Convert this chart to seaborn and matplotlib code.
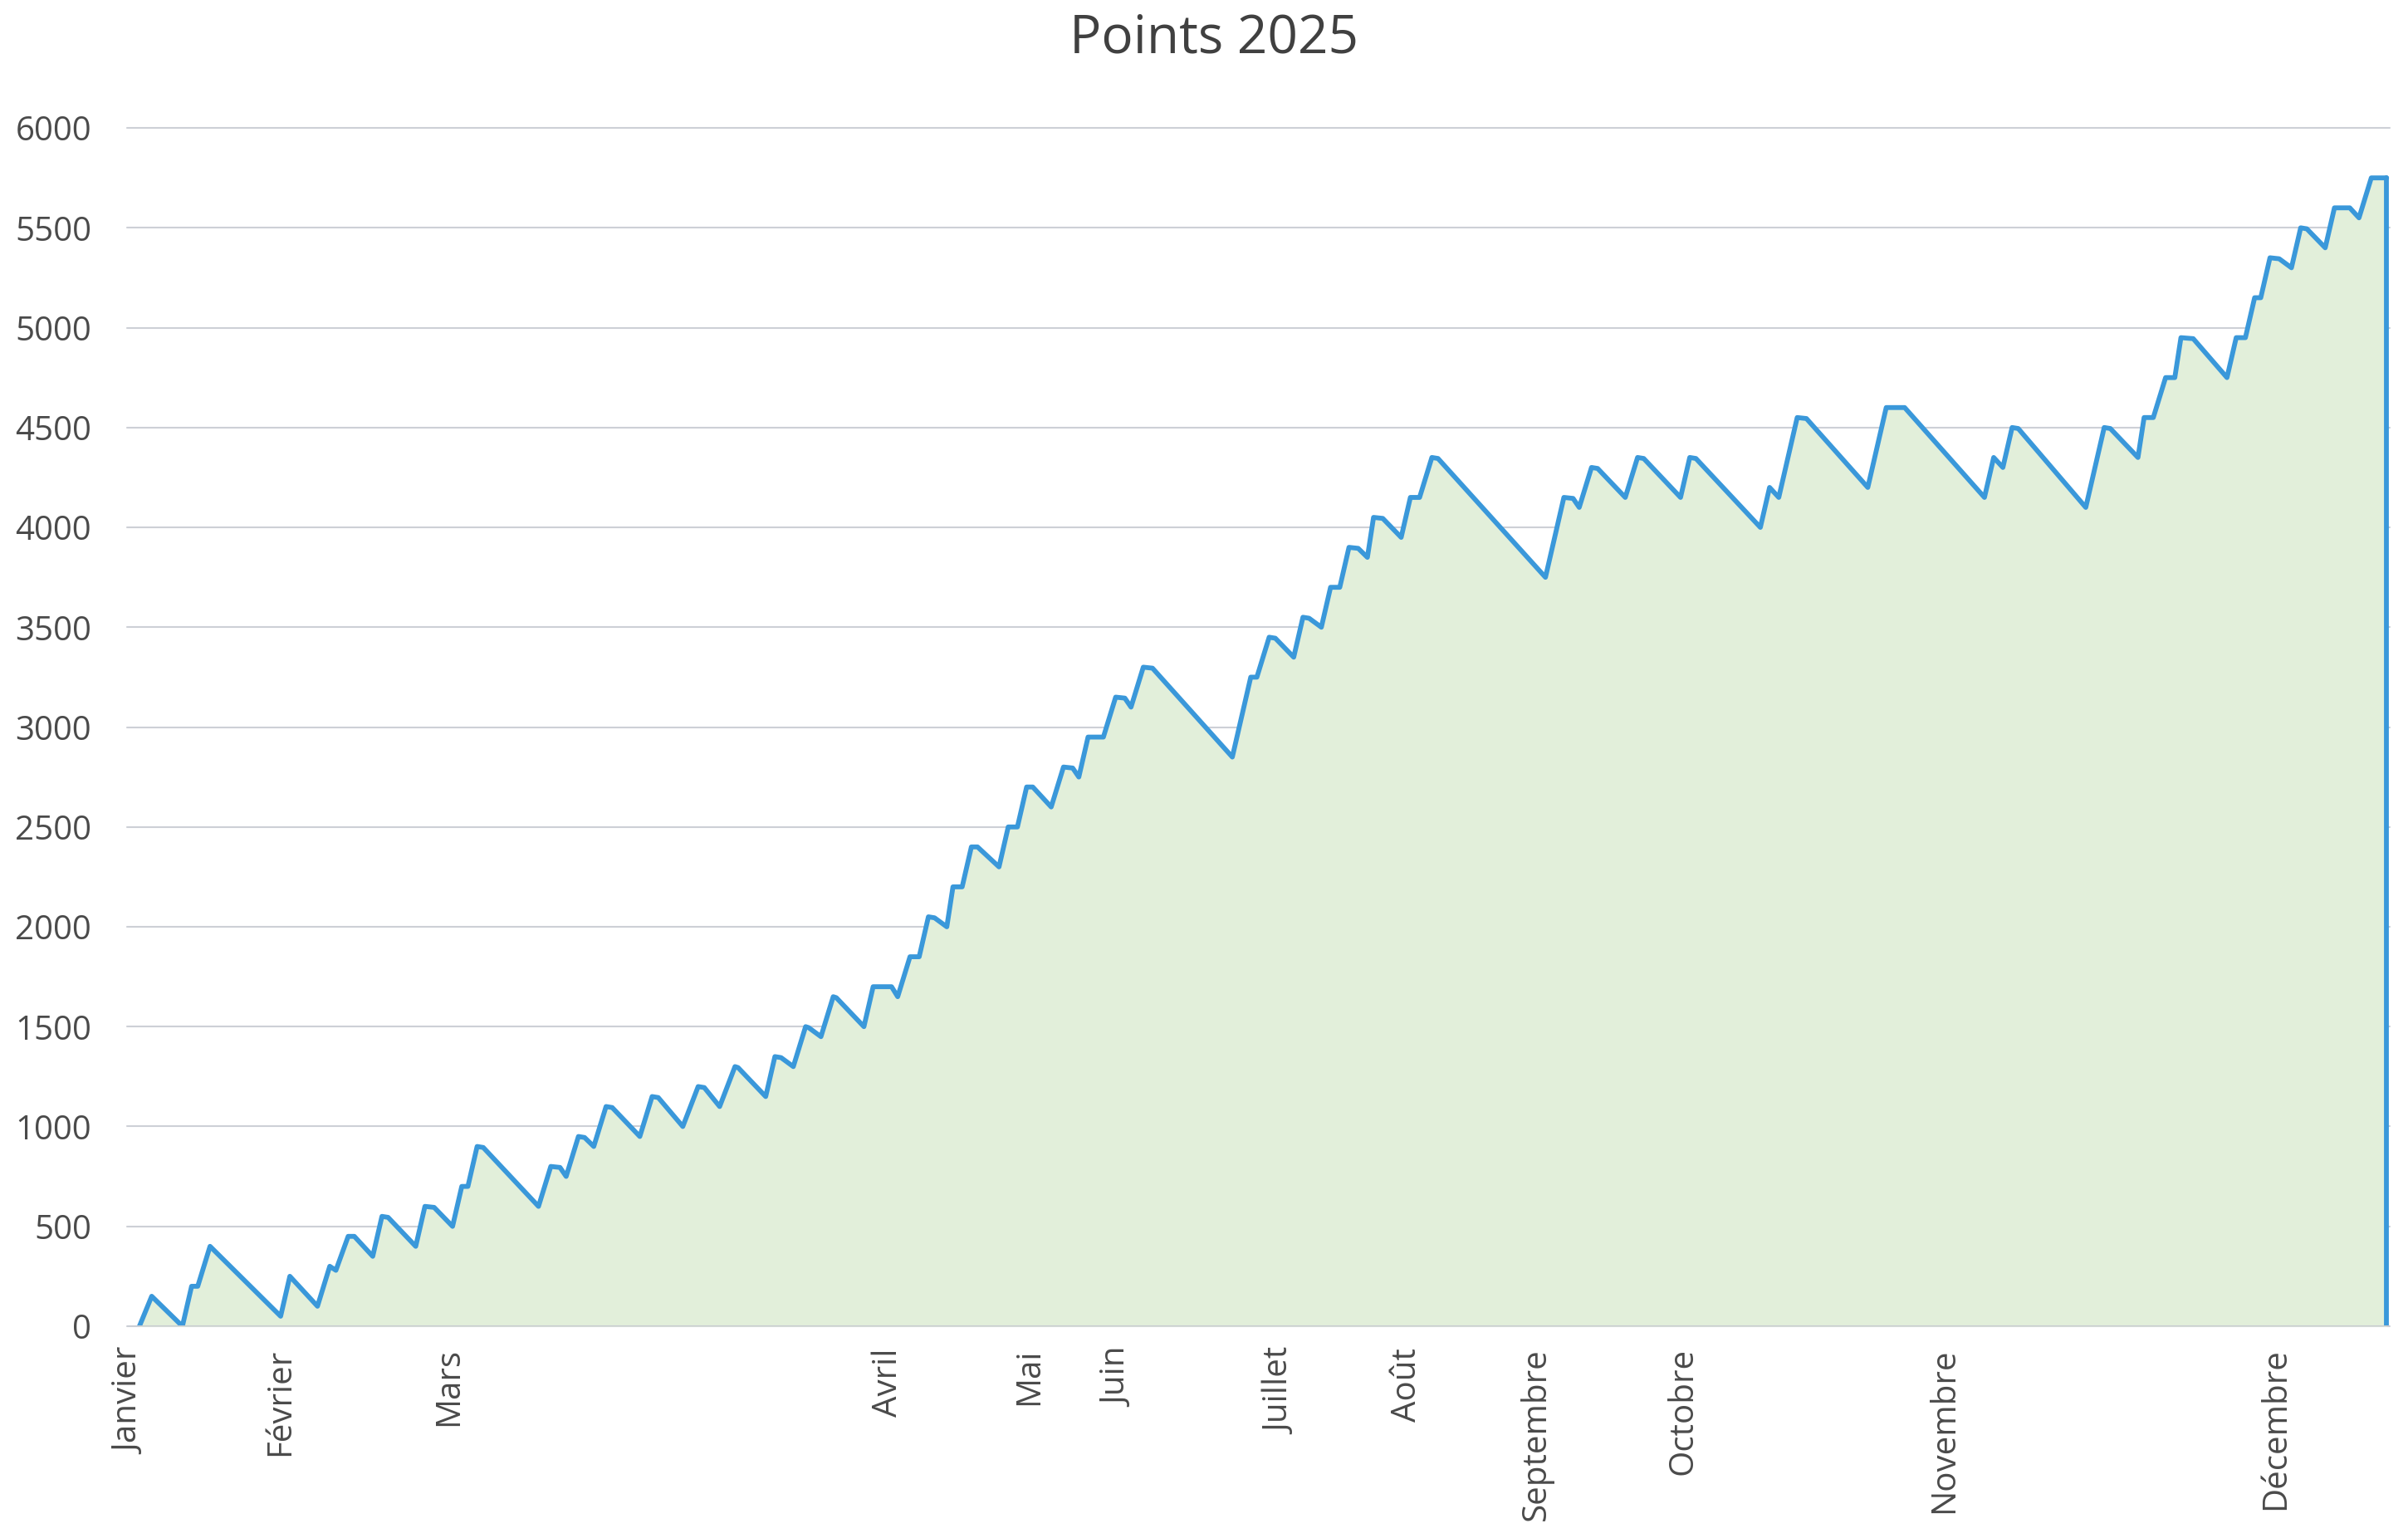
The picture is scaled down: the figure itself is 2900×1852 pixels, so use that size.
import matplotlib
matplotlib.use("Agg")
import matplotlib.pyplot as plt
import seaborn as sns
import pandas as pd

# Entry number (x) and cumulated points (y)
entree = [
    4, 8, 18, 21, 23, 27, 50, 53, 62, 66, 68, 72, 74, 80, 83, 85, 94, 97, 100, 106,
    109, 111, 114, 116, 134, 138, 141, 143, 147, 149, 152, 156, 158, 167, 171, 173, 181, 186, 188, 193,
    198, 199, 208, 211, 213, 217, 221, 222, 226, 230, 231, 240, 243, 249, 251, 255, 258, 261, 263, 267,
    269, 272, 275, 277, 284, 287, 290, 293, 295, 301, 305, 308, 310, 313, 318, 322, 325, 327, 331, 334,
    360, 366, 368, 372, 374, 380, 383, 385, 389, 392, 395, 398, 401, 404, 406, 409, 415, 418, 421, 425,
    427, 462, 468, 471, 473, 477, 479, 488, 492, 494, 506, 509, 511, 532, 535, 538, 544, 547, 567, 573,
    579, 605, 608, 611, 614, 616, 638, 644, 646, 655, 657, 660, 664, 667, 669, 673, 684, 687, 690, 693,
    695, 698, 701, 705, 708, 710, 716, 719, 724, 727, 731, 736,
]
points = [
    0, 150, 0, 200, 200, 400, 50, 250, 100, 300, 280, 450, 450, 350, 550, 545, 400, 600, 595, 500,
    700, 700, 900, 895, 600, 800, 795, 750, 950, 945, 900, 1100, 1095, 950, 1150, 1145, 1000, 1200, 1195, 1100,
    1300, 1295, 1150, 1350, 1345, 1300, 1500, 1495, 1450, 1650, 1645, 1500, 1700, 1700, 1650, 1850, 1850, 2050, 2045, 2000,
    2200, 2200, 2400, 2400, 2300, 2500, 2500, 2700, 2700, 2600, 2800, 2795, 2750, 2950, 2950, 3150, 3145, 3100, 3300, 3295,
    2850, 3250, 3250, 3450, 3445, 3350, 3550, 3545, 3500, 3700, 3700, 3900, 3895, 3850, 4050, 4045, 3950, 4150, 4150, 4350,
    4345, 3750, 4150, 4145, 4100, 4300, 4295, 4150, 4350, 4345, 4150, 4350, 4345, 4000, 4200, 4150, 4550, 4545, 4200, 4600,
    4600, 4150, 4350, 4300, 4500, 4495, 4100, 4500, 4495, 4350, 4550, 4550, 4750, 4750, 4950, 4945, 4750, 4950, 4950, 5150,
    5150, 5350, 5345, 5300, 5500, 5495, 5400, 5600, 5600, 5550, 5750, 5750,
]

mois = ["Janvier", "Février", "Mars", "Avril", "Mai", "Juin", "Juillet",
        "Août", "Septembre", "Octobre", "Novembre", "Décembre"]
mois_entree = [1, 50, 105, 248, 294, 323, 376, 417, 459, 507, 592, 700]

df = pd.DataFrame({"entree": entree, "points": points})

sns.set_theme(style="white")
plt.rcParams["font.family"] = ["Open Sans", "DejaVu Sans"]

fig = plt.figure(figsize=(29, 18.52), dpi=100)
ax = fig.add_axes([0.0528, 0.1377, 0.9396, 0.7791])

line_color = "#3a98da"
fill_color = "#e2efda"
text_color = "#4a4a4a"

ax.fill_between(df["entree"], df["points"], 0, color=fill_color, zorder=2, linewidth=0)
sns.lineplot(data=df, x="entree", y="points", ax=ax, color=line_color,
             linewidth=4.2, zorder=3, solid_joinstyle="round", solid_capstyle="round")
# right edge of the area
ax.plot([entree[-1], entree[-1]], [0, points[-1]], color=line_color, linewidth=4.2, zorder=3)

ax.set_xlim(0, 737)
ax.set_ylim(0, 6000)
ax.set_yticks(range(0, 6001, 500))
ax.yaxis.grid(True, color="#cdd0d6", linewidth=1.5, zorder=1)
ax.set_axisbelow(True)
ax.axhline(0, color="#c8ccd2", linewidth=1.5, zorder=4)

ax.set_xticks(mois_entree)
ax.set_xticklabels(mois, rotation=90, va="top", ha="center")

ax.tick_params(axis="y", length=0, pad=31, labelsize=29, labelcolor=text_color)
ax.tick_params(axis="x", length=0, pad=19, labelsize=29, labelcolor=text_color)

for side in ["top", "right", "left", "bottom"]:
    ax.spines[side].set_visible(False)

ax.set_xlabel("")
ax.set_ylabel("")
for ln in ax.get_ygridlines():
    ln.set_clip_on(False)

fig.text(0.504, 0.975, "Points 2025", ha="center", va="center",
         fontsize=46, color="#404040")

fig.savefig("out.png", dpi=100, facecolor="white")
